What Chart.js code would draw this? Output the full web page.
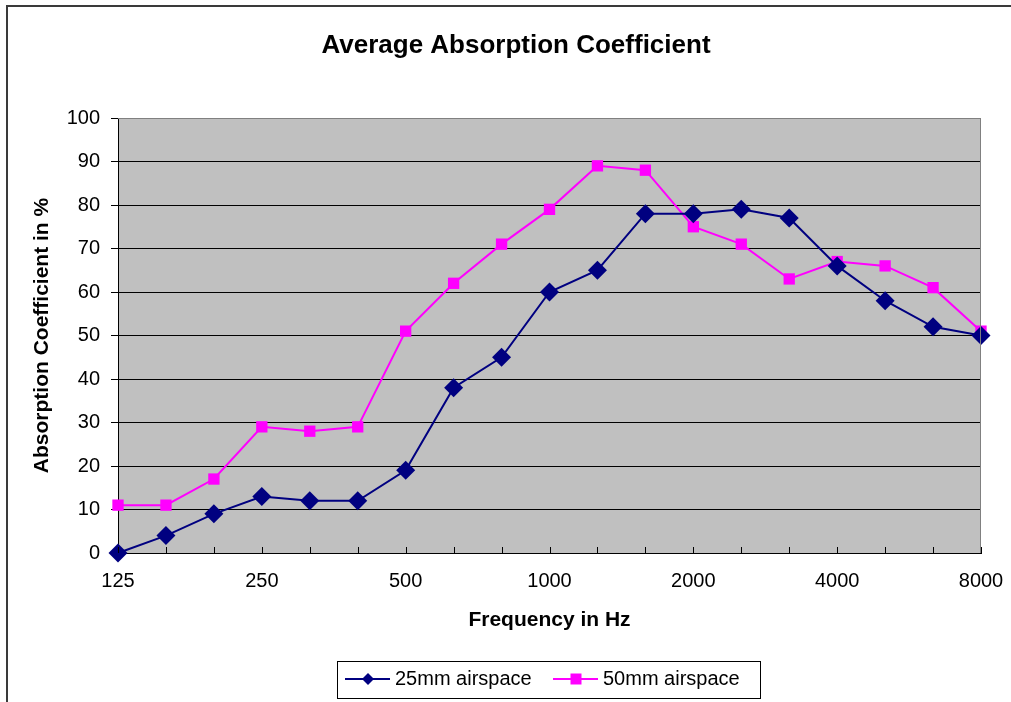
<!DOCTYPE html>
<html>
<head>
<meta charset="utf-8">
<script src="https://cdn.jsdelivr.net/npm/chart.js@4"></script>
<style>
  html, body { margin: 0; padding: 0; background: #fff; }
  #wrap { width: 1011px; height: 702px; }
</style>
</head>
<body>
<div id="wrap"><canvas id="absorptionChart" width="1011" height="702"></canvas></div>
<script>
const chartTitle = 'Average Absorption Coefficient';
const frequencies = ['125', '160', '200', '250', '315', '400', '500', '630', '800', '1000',
  '1250', '1600', '2000', '2500', '3150', '4000', '5000', '6300', '8000'];
const shownTicks = ['125', '250', '500', '1000', '2000', '4000', '8000'];
const airspace25 = [0, 4, 9, 13, 12, 12, 19, 38, 45, 60, 65, 78, 78, 79, 77, 66, 58, 52, 50];
const airspace50 = [11, 11, 17, 29, 28, 29, 51, 62, 71, 79, 89, 88, 75, 71, 63, 67, 66, 61, 51];
const seriesLabels = ['25mm airspace', '50mm airspace'];

const fontFamily = "'Liberation Sans', Arial, sans-serif";

// background, frame, title, inner x ticks and legend box
const excelLook = {
  id: 'excelLook',
  beforeDraw(chart) {
    const { ctx, chartArea: a } = chart;
    ctx.save();
    ctx.fillStyle = '#c0c0c0';
    ctx.fillRect(a.left, a.top, a.right - a.left, a.bottom - a.top);
    // outer frame
    ctx.strokeStyle = '#3a3a3a';
    ctx.lineWidth = 2;
    ctx.beginPath();
    ctx.moveTo(7, 702);
    ctx.lineTo(7, 6);
    ctx.lineTo(1011, 6);
    ctx.stroke();
    // title
    ctx.fillStyle = '#000';
    ctx.font = 'bold 26px ' + fontFamily;
    ctx.textAlign = 'center';
    ctx.textBaseline = 'middle';
    ctx.fillText(chartTitle, 516, 46);
    ctx.restore();
  },
  afterDraw(chart) {
    const { ctx, chartArea: a } = chart;
    const xs = chart.scales.x;
    ctx.save();
    // plot border top/right
    ctx.strokeStyle = '#808080';
    ctx.lineWidth = 1;
    ctx.beginPath();
    ctx.moveTo(a.left, a.top + 0.5);
    ctx.lineTo(a.right - 0.5, a.top + 0.5);
    ctx.lineTo(a.right - 0.5, a.bottom);
    ctx.stroke();
    // x ticks pointing up into the plot
    ctx.strokeStyle = '#000';
    ctx.beginPath();
    frequencies.forEach((f, i) => {
      const x = Math.round(xs.getPixelForValue(i)) + 0.5;
      ctx.moveTo(x, a.bottom);
      ctx.lineTo(x, a.bottom - 6);
    });
    ctx.stroke();

    // legend
    const boxL = 337, boxT = 661, boxR = 760, boxB = 698;
    ctx.strokeStyle = '#000';
    ctx.strokeRect(boxL + 0.5, boxT + 0.5, boxR - boxL, boxB - boxT);
    const midY = 679;
    const itemX = [345, 553];
    ctx.font = '20px ' + fontFamily;
    ctx.textBaseline = 'middle';
    ctx.textAlign = 'left';
    chart.data.datasets.forEach((ds, i) => {
      const x0 = itemX[i];
      ctx.strokeStyle = ds.borderColor;
      ctx.lineWidth = 2;
      ctx.beginPath();
      ctx.moveTo(x0, midY);
      ctx.lineTo(x0 + 45, midY);
      ctx.stroke();
      ctx.fillStyle = ds.pointBackgroundColor;
      const cx = x0 + 23;
      ctx.beginPath();
      if (ds.pointStyle === 'rectRot') {
        ctx.moveTo(cx - 6, midY);
        ctx.lineTo(cx, midY - 6);
        ctx.lineTo(cx + 6, midY);
        ctx.lineTo(cx, midY + 6);
        ctx.closePath();
      } else {
        ctx.rect(cx - 5.5, midY - 5.5, 11, 11);
      }
      ctx.fill();
      ctx.fillStyle = '#000';
      ctx.fillText(ds.label, x0 + 50, midY);
    });
    ctx.restore();
  }
};

const ctx = document.getElementById('absorptionChart').getContext('2d');
new Chart(ctx, {
  type: 'line',
  data: {
    labels: frequencies,
    datasets: [
      {
        label: seriesLabels[0],
        data: airspace25,
        borderColor: '#000080',
        backgroundColor: '#000080',
        pointBackgroundColor: '#000080',
        pointBorderColor: '#000080',
        pointStyle: 'rectRot',
        pointRadius: 9.5,
        pointBorderWidth: 0,
        borderWidth: 2,
        tension: 0,
        clip: false
      },
      {
        label: seriesLabels[1],
        data: airspace50,
        borderColor: '#ff00ff',
        backgroundColor: '#ff00ff',
        pointBackgroundColor: '#ff00ff',
        pointBorderColor: '#ff00ff',
        pointStyle: 'rect',
        pointRadius: 8,
        pointBorderWidth: 0,
        borderWidth: 2,
        tension: 0,
        clip: false
      }
    ]
  },
  options: {
    responsive: false,
    animation: false,
    layout: { padding: { top: 118, left: 0, right: 30, bottom: 61 } },
    plugins: {
      legend: { display: false },
      title: { display: false },
      tooltip: { enabled: false }
    },
    scales: {
      x: {
        offset: false,
        grid: { display: false, drawTicks: false },
        border: { display: true, color: '#000', width: 1 },
        ticks: {
          autoSkip: false,
          maxRotation: 0,
          padding: 16,
          color: '#000',
          font: { family: fontFamily, size: 20 },
          callback: function (value) {
            const lbl = this.getLabelForValue(value);
            return shownTicks.includes(lbl) ? lbl : '';
          }
        },
        title: {
          display: true,
          text: 'Frequency in Hz',
          color: '#000',
          font: { family: fontFamily, size: 21, weight: 'bold' },
          padding: { top: 0, bottom: 8 }
        },
        afterFit: (scale) => {
          scale.height = 88;
          scale.paddingLeft = 0;
          scale.paddingRight = 0;
        }
      },
      y: {
        min: 0,
        max: 100,
        grid: {
          color: (c) => (c.tick && c.tick.value === 100 ? '#808080' : '#000'),
          lineWidth: 1,
          drawTicks: true,
          tickLength: 7,
          tickColor: '#000'
        },
        border: { display: true, color: '#000', width: 1 },
        ticks: {
          stepSize: 10,
          padding: 11,
          color: '#000',
          font: { family: fontFamily, size: 20 }
        },
        title: {
          display: true,
          text: 'Absorption Coefficient in %',
          color: '#000',
          font: { family: fontFamily, size: 21, weight: 'bold' },
          padding: { top: 30, bottom: 0 }
        },
        afterFit: (scale) => { scale.width = 118; }
      }
    }
  },
  plugins: [excelLook]
});
</script>
</body>
</html>
